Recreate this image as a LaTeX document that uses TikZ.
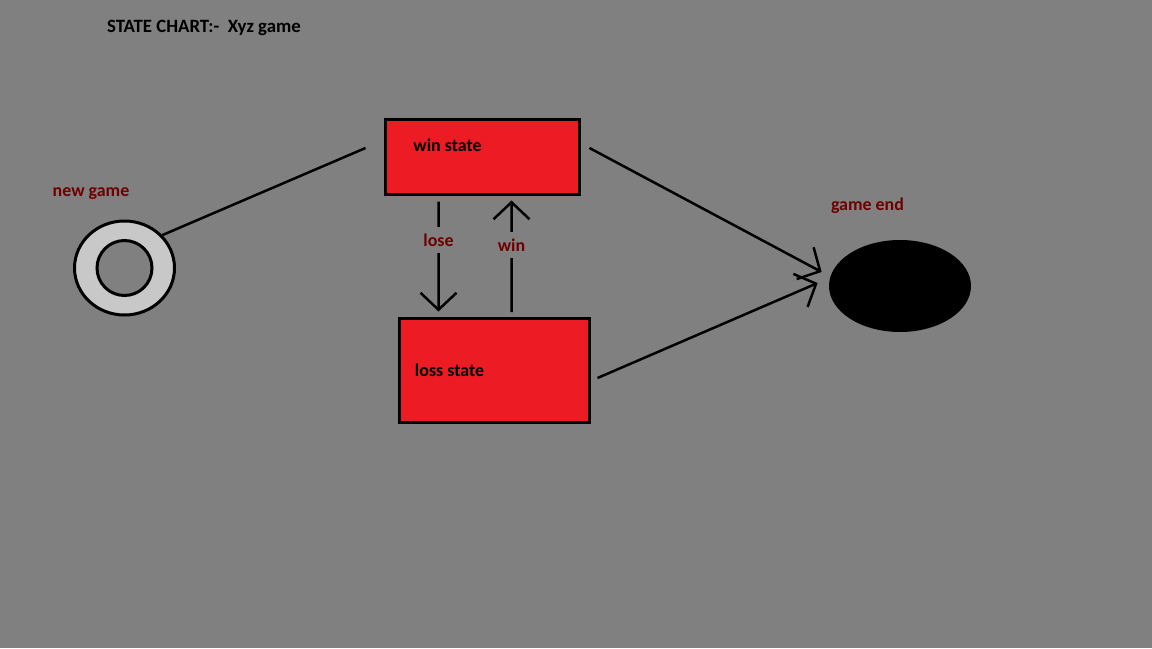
\documentclass[tikz,border=0pt]{standalone}
\usepackage{fontspec}
\setmainfont{Carlito}
\usepackage{xcolor}
\usetikzlibrary{
  positioning,
  shapes.geometric,
  arrows.meta,
  calc
}

\definecolor{canvas}{RGB}{128,128,128}
\definecolor{boxred}{RGB}{237,28,36}
\definecolor{ringgray}{RGB}{200,200,200}
\definecolor{tagred}{RGB}{110,0,0}

\begin{document}
\begin{tikzpicture}[every node/.style={font=\bfseries\fontsize{10.2}{12}\selectfont},
  statebox/.style={draw, rectangle, fill=boxred, line width=0.06cm},
  ring/.style={draw, ellipse, fill=ringgray, line width=0.06cm, minimum width=2cm, minimum height=1.88cm},
  hole/.style={draw, circle, fill=canvas, line width=0.06cm, minimum size=1.1cm},
  final/.style={ellipse, fill=black, minimum width=2.84cm, minimum height=1.84cm},
  tag/.style={text=tagred},
  guard/.style={text=tagred, fill=canvas, inner sep=4pt},
  line/.style={line width=0.05cm},
  arrow/.style={line width=0.05cm, -{Straight Barb[length=0.34cm, width=0.72cm]}}
]

% Background
\fill[canvas] (0,0) rectangle (23.04,-12.96);

% Nodes
\node[font=\bfseries\fontsize{10.7}{12}\selectfont] (title) at (4.08,-0.56) {STATE CHART:-\ \ Xyz game};
\node[ring] (start) at (2.49,-5.36) {};
\node[hole] (starthole) at (start.center) {};
\node[tag] (newlbl) at (1.82,-3.88) {new game};
\node[statebox, minimum width=3.88cm, minimum height=1.5cm,
  label={[shift={(-0.7,0.24)}]center:win state}] (win) at (9.65,-3.14) {};
\node[statebox, minimum width=3.8cm, minimum height=2.08cm,
  label={[shift={(-0.9,0)}]center:loss state}] (loss) at (9.89,-7.41) {};
\node[final] (end) at (18.0,-5.72) {};
\node[tag] (endlbl) at (17.35,-4.12) {game end};

% Arrows
\draw[line] (start.41) -- ($(win.west)+(-0.37,0.18)$);
\draw[arrow] ($(win.south west)+(1.09,-0.11)$) -- node[guard, pos=0.35] {lose} ($(loss.north west)+(0.81,0.11)$);
\draw[arrow] ($(loss.north west)+(2.27,0.1)$) -- node[guard, pos=0.6] {win} ($(win.south west)+(2.55,-0.09)$);
\draw[arrow] ($(win.east)+(0.17,0.18)$) -- ($(end.west)+(-0.14,0.28)$);
\draw[arrow] ($(loss.east)+(0.13,-0.15)$) -- ($(end.west)+(-0.22,0.06)$);

\end{tikzpicture}
\end{document}
